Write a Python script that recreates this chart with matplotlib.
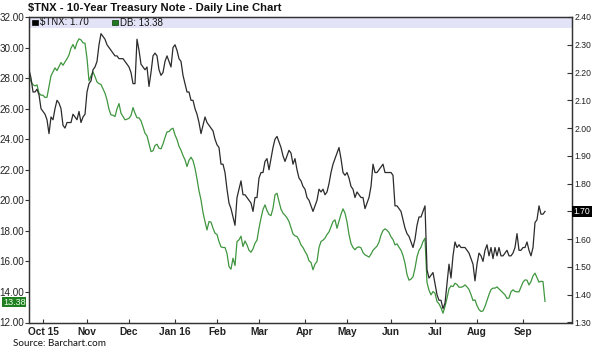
import matplotlib
matplotlib.use("Agg")
import matplotlib.pyplot as plt
import matplotlib.transforms as mtransforms
from matplotlib.patches import Rectangle
import numpy as np
import pandas as pd

# ---------------- data ----------------
end_date = "2016-09-16"

tnx = [2.21, 2.18, 2.13, 2.13, 2.14, 2.12, 2.07, 2.06, 2.05, 2.03, 1.98, 2.04, 2.03, 2.07, 2.10, 2.09,
       2.07, 2.01, 2.00, 2.02, 2.02, 2.02, 2.05, 2.04, 2.03, 2.06, 2.02, 2.04, 2.05, 2.13, 2.16, 2.17,
       2.21, 2.22, 2.24, 2.30, 2.34, 2.33, 2.32, 2.30, 2.29, 2.28, 2.27, 2.26, 2.26, 2.25,
       2.25, 2.25, 2.24, 2.23, 2.22, 2.20, 2.16, 2.16, 2.32, 2.28, 2.23, 2.22, 2.21, 2.22, 2.15, 2.20,
       2.26, 2.27, 2.26, 2.21, 2.19, 2.20, 2.24, 2.26, 2.24, 2.22, 2.29, 2.30, 2.28, 2.25, 2.24, 2.19,
       2.16, 2.13, 2.13, 2.10, 2.10, 2.07, 2.05, 2.02, 1.98, 2.01, 2.04, 2.02, 2.01,
       2.00, 1.99, 1.96, 1.94, 1.93, 1.87, 1.87, 1.84, 1.78, 1.73, 1.71, 1.68, 1.65, 1.75, 1.78, 1.81,
       1.76, 1.76, 1.75, 1.74, 1.73, 1.70, 1.75, 1.75, 1.82, 1.84, 1.84, 1.88, 1.89, 1.85, 1.89, 1.93,
       1.96, 1.97, 1.95, 1.93, 1.90, 1.88, 1.90, 1.92, 1.91, 1.87, 1.89, 1.85, 1.82,
       1.81, 1.79, 1.78, 1.75, 1.74, 1.72, 1.70, 1.72, 1.74, 1.78, 1.77, 1.78, 1.76, 1.77, 1.80, 1.84,
       1.87, 1.89, 1.91, 1.93, 1.89, 1.84, 1.83, 1.84, 1.82, 1.79, 1.78, 1.75, 1.77, 1.76, 1.75, 1.75,
       1.71, 1.73, 1.75, 1.79, 1.87, 1.84, 1.84, 1.85, 1.86, 1.87, 1.84, 1.84, 1.84,
       1.84, 1.83, 1.72, 1.72, 1.71, 1.70, 1.67, 1.64, 1.62, 1.61, 1.59, 1.57, 1.60, 1.65, 1.68, 1.68,
       1.70, 1.72, 1.49, 1.46, 1.47, 1.48, 1.44, 1.40, 1.38, 1.38, 1.35, 1.37, 1.44, 1.51, 1.46, 1.54,
       1.59, 1.57, 1.58, 1.57, 1.57, 1.57, 1.56, 1.55, 1.53, 1.51, 1.45, 1.51, 1.55,
       1.54, 1.52, 1.56, 1.58, 1.54, 1.57, 1.53, 1.57, 1.54, 1.57, 1.54, 1.54, 1.55, 1.56, 1.54, 1.54,
       1.55, 1.57, 1.62, 1.56, 1.56, 1.57, 1.57, 1.59, 1.56, 1.54, 1.57, 1.66, 1.67, 1.72, 1.69, 1.69,
       1.70]

db = [28.21, 27.77, 27.56, 27.49, 27.56, 27.01, 26.88, 26.88, 26.73, 26.75, 27.45, 28.15, 28.41, 28.67,
      28.49, 28.76, 29.02, 28.84, 29.06, 29.26, 29.52, 29.96, 30.20, 29.91, 30.33, 30.57, 30.50, 30.31,
      30.28, 29.30, 27.82, 28.15, 28.41, 28.10, 27.75, 27.64, 27.58, 27.29, 27.01, 26.57, 25.96, 25.59,
      25.57, 25.48, 25.99, 26.33,
      25.70, 25.48, 25.27, 25.31, 25.37, 25.55, 26.07, 25.70, 25.40, 25.40, 25.20, 24.81, 24.39, 24.22,
      23.69, 23.19, 23.24, 23.59, 23.67, 23.41, 23.37, 23.69, 24.11, 24.48, 24.50, 24.65, 24.72, 24.28,
      23.98, 23.54, 23.28, 22.93, 22.65, 22.21, 22.62, 22.82, 22.60, 22.10, 21.40, 20.62, 20.03, 19.20,
      18.61, 18.06, 18.61,
      18.57, 18.17, 17.85, 17.76, 17.30, 16.95, 16.91, 16.91, 16.52, 15.66, 15.49, 16.21, 15.73, 17.30,
      17.41, 17.65, 16.97, 17.34, 17.08, 16.73, 16.60, 16.82, 17.19, 17.39, 18.17, 18.83, 19.40, 19.70,
      19.33, 19.07, 19.00, 19.48, 20.36, 20.46, 19.92, 19.42, 19.16, 19.02, 18.85, 18.61, 18.20, 17.80,
      17.67, 17.63, 17.41,
      17.08, 16.91, 16.65, 16.43, 16.04, 15.93, 15.45, 15.82, 15.99, 16.91, 17.30, 17.39, 17.52, 17.76,
      17.93, 18.26, 18.61, 18.72, 18.17, 18.63, 19.09, 19.44, 19.16, 18.59, 17.76, 17.17, 16.91, 16.76,
      16.91, 16.95, 16.89, 16.58, 16.43, 16.36, 16.28, 16.47, 16.73, 16.86, 17.00, 17.26, 17.72, 18.02,
      18.13, 18.04, 17.89,
      17.61, 17.43, 17.08, 17.15, 16.93, 16.73, 16.38, 15.88, 15.14, 14.77, 14.84, 14.99, 15.55, 16.30,
      16.73, 16.93, 17.30, 17.52, 14.62, 14.11, 13.81, 14.03, 13.92, 13.37, 13.22, 12.96, 12.61, 13.05,
      13.59, 14.20, 14.40, 14.35, 14.57, 14.49, 14.31, 14.31, 14.35, 14.46, 14.33, 14.16, 13.83, 13.44,
      13.48, 13.11, 12.85,
      12.72, 12.76, 13.05, 13.44, 13.83, 14.16, 14.25, 14.25, 14.33, 14.20, 14.07, 13.94, 13.81, 13.57,
      13.61, 14.01, 14.14, 14.03, 14.01, 14.01, 14.33, 14.64, 14.79, 14.77, 14.46, 14.68, 15.05, 15.23,
      14.94, 14.64, 14.70, 14.68, 13.38]

month_labels = ["Oct 15", "Nov", "Dec", "Jan 16", "Feb", "Mar", "Apr", "May", "Jun", "Jul", "Aug", "Sep"]
left_ticks = [12, 14, 16, 18, 20, 22, 24, 26, 28, 30, 32]
right_ticks = [1.30, 1.40, 1.50, 1.60, 1.70, 1.80, 1.90, 2.00, 2.10, 2.20, 2.30, 2.40]

title = "\\$TNX - 10-Year Treasury Note - Daily Line Chart"
source = "Source: Barchart.com"

# ---------------- figure ----------------
FONT = "Liberation Sans"
W, H = 595, 352
fig = plt.figure(figsize=(W / 100, H / 100), dpi=100)
fig.patch.set_facecolor("white")

ax = fig.add_axes([29 / W, 1 - 322.5 / H, 543 / W, 305.5 / H])
ax2 = ax.twinx()

dates = pd.bdate_range(end=end_date, periods=len(tnx))
idx = np.arange(len(dates))

green = "#3f963f"
ax.plot(idx, db, color=green, lw=0.9, zorder=3)
ax2.plot(idx, tnx, color="#2b2b2b", lw=0.9, zorder=3)

ax.set_xlim(0, 271.5)
ax.set_ylim(12, 32)
ax2.set_ylim(1.30, 2.40)

# month ticks at first trading day of each month
starts = [i for i in range(1, len(dates)) if dates[i].month != dates[i - 1].month]
ax.set_xticks(starts)
ax.set_xticklabels(month_labels[:len(starts)], fontfamily=FONT, fontsize=7.3, fontweight="bold", color="#222222")
ax.tick_params(axis="x", direction="in", length=3, pad=3, color="#333333")

ax.set_yticks(left_ticks)
ax.set_yticklabels([f"{v:.2f}" for v in left_ticks], fontfamily=FONT, fontsize=7.1, color="#222222")
ax.tick_params(axis="y", direction="out", length=3, pad=0.5, color="#333333")

ax2.set_yticks(right_ticks)
ax2.set_yticklabels([f"{v:.2f}" for v in right_ticks], fontfamily=FONT, fontsize=6.2, color="#222222")
ax2.tick_params(axis="y", direction="in", length=3.5, pad=1.5, color="#333333")

for a in (ax, ax2):
    for s in a.spines.values():
        s.set_color("#333333")
        s.set_linewidth(0.9)

# legend band
band_h = 11 / 305.5
ax.add_patch(Rectangle((0, 1 - band_h), 1, band_h, transform=ax.transAxes,
                       facecolor="#e3e3f8", edgecolor="none", zorder=0))
ytxt = 1 - band_h / 2
sq_w = 5.5 / 543
ax.add_patch(Rectangle((3 / 543, ytxt - 2.7 / 305.5), sq_w, 5.4 / 305.5, transform=ax.transAxes,
                       facecolor="black", edgecolor="black", lw=0.5, zorder=4, clip_on=False))
ax.text(11 / 543, ytxt, f"\\$TNX: {tnx[-1]:.2f}", transform=ax.transAxes, fontfamily=FONT,
        fontsize=7, va="center", ha="left", color="#111111")
ax.add_patch(Rectangle((83 / 543, ytxt - 2.7 / 305.5), sq_w, 5.4 / 305.5, transform=ax.transAxes,
                       facecolor="#1f7a1f", edgecolor="#0b3b0b", lw=0.5, zorder=4, clip_on=False))
ax.text(91 / 543, ytxt, f"DB: {db[-1]:.2f}", transform=ax.transAxes, fontfamily=FONT,
        fontsize=7, va="center", ha="left", color="#111111")

# last-value highlight labels
trL = mtransforms.blended_transform_factory(ax.transAxes, ax.transData)
ax.text(-3.5 / 543, db[-1] - 0.05, f"{db[-1]:.2f}", transform=trL, ha="right", va="center",
        fontfamily=FONT, fontsize=6.6, color="#e8ffe8", zorder=10,
        bbox=dict(boxstyle="square,pad=0.06", facecolor="#1f7f1f", edgecolor="none"))
trR = mtransforms.blended_transform_factory(ax2.transAxes, ax2.transData)
ax2.text(1 + 1.5 / 543, tnx[-1], f"{tnx[-1]:.2f}", transform=trR, ha="left", va="center",
         fontfamily=FONT, fontsize=6.2, color="white", zorder=10,
         bbox=dict(boxstyle="square,pad=0.15", facecolor="black", edgecolor="none"))

# titles
fig.text(28 / W, 1 - 8 / H, title, fontfamily=FONT, fontsize=8.1, fontweight="bold",
         ha="left", va="center", color="#111111")
fig.text(13 / W, 1 - 343 / H, source, fontfamily="Lato", fontsize=7.1,
         ha="left", va="center", color="#111111")

fig.savefig("out.png", dpi=100)
